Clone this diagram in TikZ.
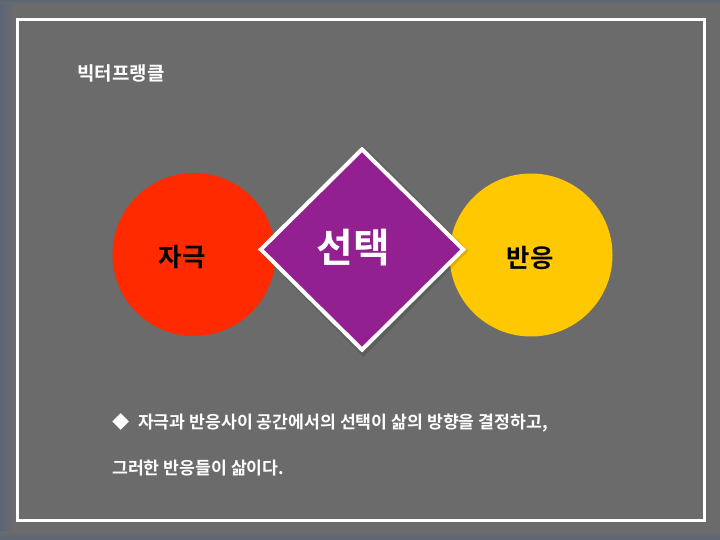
\documentclass[tikz,border=0pt]{standalone}
\usepackage{fontspec}
\newfontfamily\kr{Noto Sans CJK KR}[BoldFont={Noto Sans CJK KR Bold}]
\usetikzlibrary{shapes.geometric}
\definecolor{bggray}{HTML}{6B6B6B}
\definecolor{bgblue}{HTML}{5B6577}
\definecolor{stimred}{HTML}{FF2A00}
\definecolor{respyellow}{HTML}{FFC800}
\definecolor{choicepurple}{HTML}{932090}
\tikzset{
  bubble/.style={circle, inner sep=0pt, minimum size=163bp},
  bubbletext/.style={font=\kr\bfseries\fontsize{25.5}{28}\selectfont, text=black, inner sep=0pt},
  bodytext/.style={font=\kr\bfseries\fontsize{17.3}{20}\selectfont, text=white, inner sep=0pt, anchor=west},
}
\begin{document}
\begin{tikzpicture}[x=1bp,y=-1bp]
\useasboundingbox (0,0) rectangle (720,540);
% background
\fill[bggray] (0,0) rectangle (720,540);
\shade[left color=bgblue, right color=bggray] (0,0) rectangle (14,540);
\shade[top color=bgblue, bottom color=bggray] (0,0) rectangle (720,4);
\shade[top color=bggray, bottom color=bgblue] (0,531) rectangle (720,540);
% frame
\draw[white, line width=3bp] (17.5,20) rectangle (704,520.5);
% title
\node[font=\kr\bfseries\fontsize{19}{22}\selectfont, text=white, inner sep=0pt] (title) at (121,73) {빅터프랭클};
% circles
\node[bubble, fill=stimred] (stim) at (194,254.5) {};
\node[bubble, fill=respyellow] (resp) at (531,255) {};
\node[bubbletext] (stimtext) at (182,257) {자극};
\node[bubbletext] (resptext) at (530,258) {반응};
% diamond (with a faint drop shadow)
\fill[black, opacity=0.12] (363.5,145.5) -- (468.5,251) -- (363.5,357) -- (258.5,251) -- cycle;
\node[diamond, aspect=1, fill=choicepurple, draw=white, line width=4bp, inner sep=0pt,
      minimum width=204bp, minimum height=202bp] (choice) at (362,249.5) {};
\node[font=\kr\bfseries\fontsize{40}{44}\selectfont, text=white, inner sep=0pt] (choicetext) at (353,248) {선택};
% body text
\node[bodytext] (line1) at (112,423) {◆\hspace{0.5em}자극과 반응사이 공간에서의 선택이 삶의 방향을 결정하고,};
\node[bodytext] (line2) at (112,468) {그러한 반응들이 삶이다.};
\end{tikzpicture}
\end{document}
